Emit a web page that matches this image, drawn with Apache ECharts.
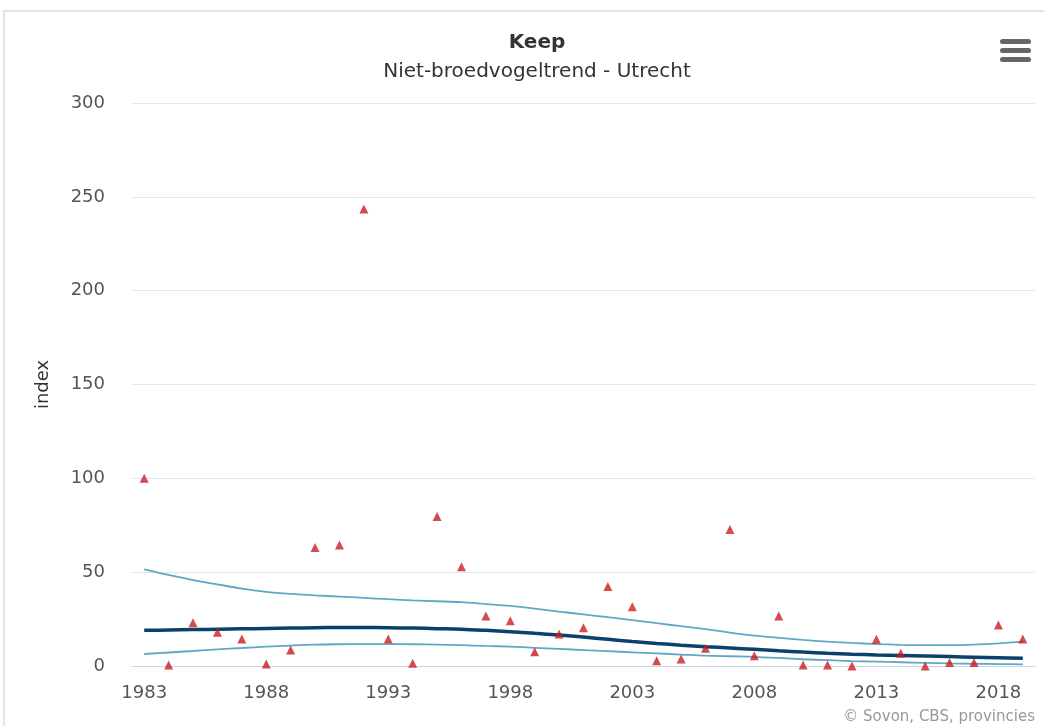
<!DOCTYPE html>
<html>
<head>
<meta charset="utf-8">
<script src="https://cdn.jsdelivr.net/npm/echarts@6/dist/echarts.min.js"></script>
<style>
  html,body{margin:0;padding:0;background:#fff;}
  #frame{position:absolute;left:3px;top:10px;width:1050px;height:730px;border-top:2px solid #e1e5e5;border-left:2px solid #e1e5e5;}
  #chart{position:absolute;left:0;top:0;width:1044px;height:726px;}
</style>
</head>
<body>
<div id="frame"></div>
<div id="chart"></div>
<script>
// jaren
var years = [];
for (var y = 1983; y <= 2019; y++) years.push(String(y));

// jaarindex (rode driehoekjes)
var indexValues = [100, 0.5, 23, 18, 14.4, 1, 8.5, 63.2, 64.5, 243.5,
  14.4, 1.5, 79.6, 52.9, 26.6, 24.1, 7.6, 17, 20.4, 42.3,
  31.6, 2.8, 3.7, 9.4, 72.8, 5.5, 26.6, 0.5, 0.5, 0,
  14.2, 6.8, 0, 1.8, 1.8, 21.8, 14.4];

// trendlijn
var trend = [19.0, 19.2, 19.4, 19.6, 19.8, 20.0, 20.2, 20.4, 20.5, 20.5,
  20.4, 20.2, 19.9, 19.6, 19.0, 18.3, 17.4, 16.5, 15.4, 14.2,
  13.0, 12.0, 11.1, 10.3, 9.6, 8.9, 8.1, 7.4, 6.8, 6.3,
  5.9, 5.6, 5.3, 5.0, 4.7, 4.4, 4.1];

// betrouwbaarheidsinterval
var upper = [51.5, 48.5, 45.8, 43.5, 41.2, 39.5, 38.4, 37.6, 37.0, 36.3,
  35.6, 35.0, 34.5, 34.0, 33.0, 32.0, 30.6, 29.0, 27.5, 26.0,
  24.5, 22.8, 21.2, 19.7, 17.8, 16.2, 15.0, 13.9, 13.0, 12.3,
  11.7, 11.3, 11.1, 11.1, 11.4, 12.1, 13.0];
var lower = [6.4, 7.2, 8.0, 8.9, 9.6, 10.3, 10.9, 11.4, 11.6, 11.7,
  11.7, 11.6, 11.4, 11.1, 10.7, 10.3, 9.7, 9.1, 8.5, 7.9,
  7.3, 6.7, 6.1, 5.5, 5.2, 4.9, 4.3, 3.6, 3.1, 2.6,
  2.3, 2.0, 1.7, 1.4, 1.2, 1.0, 0.9];

var font = '"DejaVu Sans", "Open Sans", sans-serif';
var myChart = echarts.init(document.getElementById('chart'));

var ciStyle = { color: '#5ea8c6', width: 1.8 };

var option = {
  animation: false,
  backgroundColor: 'transparent',
  title: {
    text: 'Keep',
    subtext: 'Niet-broedvogeltrend - Utrecht',
    left: 532,
    textAlign: 'center',
    top: 27,
    itemGap: 7,
    textStyle: { fontFamily: font, fontSize: 20, fontWeight: 'bold', color: '#333', lineHeight: 22 },
    subtextStyle: { fontFamily: font, fontSize: 20, color: '#333', lineHeight: 22 }
  },
  grid: { left: 132, right: 9, top: 103, bottom: 60 },
  xAxis: {
    type: 'category',
    data: years,
    boundaryGap: true,
    axisLine: { lineStyle: { color: '#ccd6eb', width: 1 } },
    axisTick: { alignWithLabel: true, interval: 4, length: 12, lineStyle: { color: '#ccd6eb' } },
    axisLabel: { interval: 4, margin: 18, fontFamily: font, fontSize: 18, color: '#555' },
    splitLine: { show: false }
  },
  yAxis: {
    type: 'value',
    min: 0,
    max: 300,
    interval: 50,
    name: 'index',
    nameLocation: 'middle',
    nameGap: 80,
    nameRotate: 90,
    nameTextStyle: { fontFamily: font, fontSize: 18, color: '#333' },
    axisLine: { show: false },
    axisTick: { show: false },
    axisLabel: { margin: 27, fontFamily: font, fontSize: 18, color: '#555' },
    splitLine: { lineStyle: { color: '#e6e6e6', width: 1 } }
  },
  series: [
    {
      name: 'bovengrens',
      type: 'line',
      data: upper,
      smooth: 0.3,
      showSymbol: false,
      lineStyle: ciStyle,
      z: 2
    },
    {
      name: 'ondergrens',
      type: 'line',
      data: lower,
      smooth: 0.3,
      showSymbol: false,
      lineStyle: ciStyle,
      z: 2
    },
    {
      name: 'trend',
      type: 'line',
      data: trend,
      smooth: 0.3,
      showSymbol: false,
      lineStyle: { color: '#0b426c', width: 3.5 },
      z: 3
    },
    {
      name: 'index',
      type: 'scatter',
      data: indexValues,
      symbol: 'triangle',
      symbolSize: 9,
      itemStyle: { color: '#cc1b1f' },
      z: 4
    }
  ],
  graphic: [
    {
      type: 'group',
      left: 1000,
      top: 39,
      children: [
        { type: 'rect', shape: { x: 0, y: 0, width: 31, height: 5, r: 2.5 }, style: { fill: '#666' } },
        { type: 'rect', shape: { x: 0, y: 9, width: 31, height: 5, r: 2.5 }, style: { fill: '#666' } },
        { type: 'rect', shape: { x: 0, y: 18, width: 31, height: 5, r: 2.5 }, style: { fill: '#666' } }
      ]
    },
    {
      type: 'text',
      right: 9,
      bottom: 1,
      style: { text: '\u00a9 Sovon, CBS, provincies', fontFamily: font, fontSize: 15, fill: '#999' }
    }
  ]
};

myChart.setOption(option, true);
window.addEventListener('resize', function () { myChart.resize(); });
</script>
</body>
</html>
